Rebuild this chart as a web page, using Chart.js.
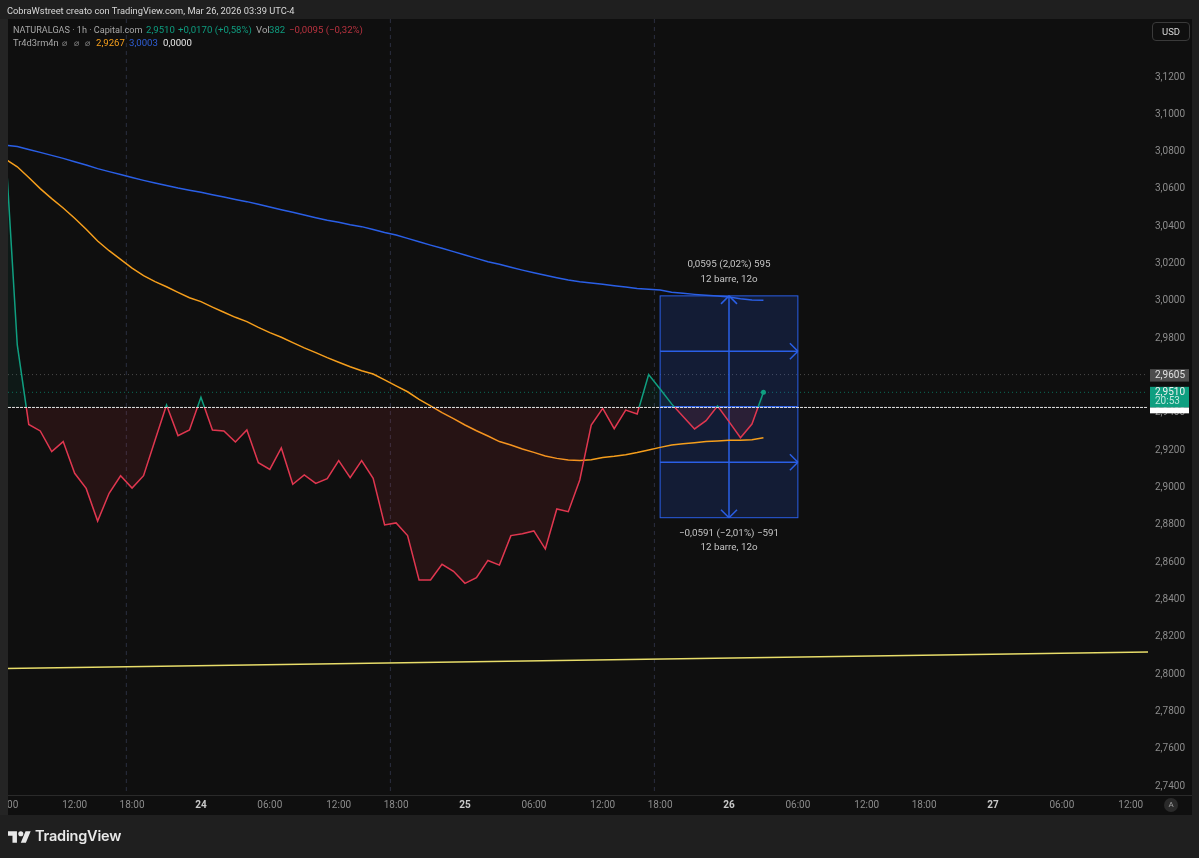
<!DOCTYPE html>
<html>
<head>
<meta charset="utf-8">
<title>NATURALGAS</title>
<script src="https://cdn.jsdelivr.net/npm/chart.js@4/dist/chart.umd.min.js"></script>
<style>
    html, body { margin: 0; padding: 0; background: #1f1f1f; }
    body { position: relative; width: 1199px; height: 858px; overflow: hidden; font-family: Roboto, sans-serif; }
    canvas { display: block; }
    .t { position: absolute; white-space: nowrap; font-size: 9.6px; line-height: 12px; }
    .usd { position: absolute; left: 1152px; top: 22px; width: 36px; height: 17px; border: 1px solid #3a3a3a; border-radius: 4px; color: #d8d8d8; font-size: 9.5px; line-height: 17px; text-align: center; }
    .auto { position: absolute; left: 1164px; top: 798px; width: 14px; height: 14px; border-radius: 50%; background: #2a2a2a; color: #a0a0a0; font-size: 8px; line-height: 14px; text-align: center; }
    .logo { position: absolute; left: 8px; top: 831px; }
    .brand { position: absolute; left: 35px; top: 826px; color: #e8e8e8; font-family: Inter, sans-serif; font-size: 14.5px; line-height: 20px; font-weight: 600; letter-spacing: -0.2px; }
</style>
</head>
<body>
<canvas id="chart" width="1199" height="858"></canvas>

<div class="t" style="left:7px;top:5px;color:#d8d8d8;font-size:9.3px">CobraWstreet creato con TradingView.com, Mar 26, 2026 03:39 UTC-4</div>
<div class="t" style="left:13px;top:24px;color:#a8a8a8;font-size:9.1px">NATURALGAS · 1h · Capital.com</div>
<div class="t" style="left:146px;top:24px;color:#0e9c7f">2,9510</div>
<div class="t" style="left:178px;top:24px;color:#0e9c7f">+0,0170 (+0,58%)</div>
<div class="t" style="left:256px;top:24px;color:#a8a8a8">Vol</div>
<div class="t" style="left:269px;top:24px;color:#0e9c7f">382</div>
<div class="t" style="left:289px;top:24px;color:#b8323f">−0,0095 (−0,32%)</div>
<div class="t" style="left:13px;top:37px;color:#a8a8a8;font-size:9.3px">Tr4d3rm4n</div>
<div class="t" style="left:62px;top:37px;color:#8a8a8a;font-size:9px;font-family:'DejaVu Sans'">⌀</div>
<div class="t" style="left:74px;top:37px;color:#8a8a8a;font-size:9px;font-family:'DejaVu Sans'">⌀</div>
<div class="t" style="left:85px;top:37px;color:#8a8a8a;font-size:9px;font-family:'DejaVu Sans'">⌀</div>
<div class="t" style="left:96px;top:37px;color:#f59e1c">2,9267</div>
<div class="t" style="left:129px;top:37px;color:#2f5fd6">3,0003</div>
<div class="t" style="left:163px;top:37px;color:#e8e8e8">0,0000</div>
<div class="usd">USD</div>
<div class="auto">A</div>
<svg class="logo" width="23" height="12" viewBox="0 4 36 18"><path fill="#e8e8e8" d="M14 22H7V11H0V4h14v18zM28 22h-8l7.5-18h8L28 22z"/><circle fill="#e8e8e8" cx="20" cy="8" r="4"/></svg>
<div class="brand">TradingView</div>

<script>
const closeValues = [
    3.0793, 2.9764, 2.9338, 2.9303, 2.9192, 2.9246, 2.9076, 2.8995, 2.8820, 2.8969,
    2.9063, 2.8997, 2.9063, 2.9253, 2.9442, 2.9278, 2.9308, 2.9483, 2.9308, 2.9303,
    2.9244, 2.9308, 2.9133, 2.9097, 2.9212, 2.9017, 2.9067, 2.9022, 2.9047, 2.9144,
    2.9053, 2.9144, 2.9049, 2.8799, 2.8810, 2.8742, 2.8504, 2.8504, 2.8588, 2.8551,
    2.8486, 2.8517, 2.8609, 2.8584, 2.8742, 2.8752, 2.8767, 2.8670, 2.8885, 2.8870,
    2.9040, 2.9335, 2.9424, 2.9315, 2.9415, 2.9394, 2.9605, 2.9528, 2.9448, 2.9380,
    2.9314, 2.9358, 2.9437, 2.9353, 2.9267, 2.9340, 2.9510
];
const orangeValues = [
    3.0759, 3.0719, 3.0661, 3.0602, 3.0548, 3.0498, 3.0443, 3.0384, 3.0321, 3.0269,
    3.0223, 3.0176, 3.0135, 3.0103, 3.0076, 3.0046, 3.0017, 2.9996, 2.9967, 2.9939,
    2.9912, 2.9889, 2.9858, 2.9830, 2.9805, 2.9776, 2.9748, 2.9723, 2.9696, 2.9671,
    2.9647, 2.9626, 2.9608, 2.9577, 2.9545, 2.9513, 2.9472, 2.9437, 2.9401, 2.9369,
    2.9335, 2.9304, 2.9276, 2.9246, 2.9228, 2.9206, 2.9188, 2.9169, 2.9156, 2.9147,
    2.9144, 2.9149, 2.9161, 2.9167, 2.9176, 2.9187, 2.9201, 2.9215, 2.9228, 2.9235,
    2.9240, 2.9246, 2.9249, 2.9253, 2.9253, 2.9256, 2.9267
];
const blueValues = [
    3.0834, 3.0827, 3.0812, 3.0796, 3.0780, 3.0764, 3.0746, 3.0728, 3.0709, 3.0693,
    3.0677, 3.0661, 3.0646, 3.0632, 3.0619, 3.0605, 3.0593, 3.0582, 3.0569, 3.0557,
    3.0544, 3.0532, 3.0518, 3.0503, 3.0489, 3.0475, 3.0460, 3.0446, 3.0432, 3.0421,
    3.0408, 3.0398, 3.0383, 3.0367, 3.0353, 3.0335, 3.0317, 3.0299, 3.0282, 3.0264,
    3.0246, 3.0228, 3.0210, 3.0196, 3.0180, 3.0165, 3.0151, 3.0137, 3.0124, 3.0112,
    3.0103, 3.0096, 3.0089, 3.0081, 3.0074, 3.0067, 3.0062, 3.0058, 3.0046, 3.0041,
    3.0035, 3.0030, 3.0026, 3.0021, 3.0012, 3.0005, 3.0003
];
const trendBars = [0, 99.5];
const trendValues = [2.8030, 2.8118];

const priceTicks = [3.12, 3.10, 3.08, 3.06, 3.04, 3.02, 3.00, 2.98, 2.96, 2.94, 2.92, 2.90, 2.88, 2.86, 2.84, 2.82, 2.80, 2.78, 2.76, 2.74];
const timeTickBars = [0, 6, 11, 17, 23, 29, 34, 40, 46, 52, 57, 63, 69, 75, 80, 86, 92, 98];
const timeTickLabels = ['06:00', '12:00', '18:00', '24', '06:00', '12:00', '18:00', '25', '06:00', '12:00', '18:00', '26', '06:00', '12:00', '18:00', '27', '06:00', '12:00'];
const sessionBreaks = [10.5, 33.5, 56.5];

const baseline = 2.9429;
const lastPrice = 2.9510;
const highPrice = 2.9605;
const measureBars = [57, 69];
const measureTop = 3.0027;
const measureBottom = 2.8838;
const upLabel = '0,0595 (2,02%) 595';
const downLabel = '−0,0591 (−2,01%) −591';
const barsLabel = '12 barre, 12o';

const UP = '#0f9f80';
const DOWN = '#e0364f';
const BLUE = '#2a5fe6';
const FONT = 'Roboto, sans-serif';

function fmt(v) {
    return v.toFixed(4).replace('.', ',');
}

function toPoints(values) {
    return values.map((v, i) => ({ x: i, y: v }));
}

function isDayTick(ctx) {
    const label = timeTickLabels[ctx.index];
    return !!label && label.length === 2;
}

function baselineStroke(ctx) {
    const chart = ctx.chart;
    if (!chart.chartArea) return DOWN;
    const { top, bottom } = chart.chartArea;
    const stop = (chart.scales.y.getPixelForValue(baseline) - top) / (bottom - top);
    const grad = chart.ctx.createLinearGradient(0, top, 0, bottom);
    grad.addColorStop(0, UP);
    grad.addColorStop(stop, UP);
    grad.addColorStop(stop, DOWN);
    grad.addColorStop(1, DOWN);
    return grad;
}

function hLine(c, x0, x1, y, color, width, dash) {
    c.save();
    c.strokeStyle = color;
    c.lineWidth = width;
    c.setLineDash(dash || []);
    c.beginPath();
    c.moveTo(x0, y);
    c.lineTo(x1, y);
    c.stroke();
    c.restore();
}

function arrowHead(c, x, y, dx, dy) {
    c.beginPath();
    c.moveTo(x + dx * 8 + dy * 8, y + dy * 8 + dx * 8);
    c.lineTo(x, y);
    c.moveTo(x + dx * 8 - dy * 8, y + dy * 8 - dx * 8);
    c.lineTo(x, y);
    c.stroke();
}

const panelPlugin = {
    id: 'panel',
    beforeDraw(chart) {
        const c = chart.ctx;
        c.save();
        c.fillStyle = '#1f1f1f';
        c.fillRect(0, 0, 1199, 858);
        c.fillStyle = '#0f0f0f';
        c.fillRect(8, 19, 1184, 796);
        c.strokeStyle = '#2a2a2a';
        c.lineWidth = 1;
        c.beginPath();
        c.moveTo(8, 795.5);
        c.lineTo(1192, 795.5);
        c.stroke();
        c.restore();
    },
    beforeDatasetsDraw(chart) {
        const c = chart.ctx;
        const { x, y } = chart.scales;
        const area = chart.chartArea;

        c.save();
        c.strokeStyle = '#2b2f40';
        c.lineWidth = 1;
        c.setLineDash([4, 4]);
        sessionBreaks.forEach(b => {
            const px = x.getPixelForValue(b);
            c.beginPath();
            c.moveTo(px, area.top);
            c.lineTo(px, area.bottom);
            c.stroke();
        });
        c.restore();

        hLine(c, 8, area.right, y.getPixelForValue(highPrice), '#4a4a4a', 1, [1, 3]);
        hLine(c, 8, area.right, y.getPixelForValue(lastPrice), '#0c6b58', 1, [1, 3]);

        // measure box
        const left = x.getPixelForValue(measureBars[0]);
        const right = x.getPixelForValue(measureBars[1]);
        const top = y.getPixelForValue(measureTop);
        const bottom = y.getPixelForValue(measureBottom);
        const mid = (left + right) / 2;
        const entry = y.getPixelForValue((measureTop + measureBottom) / 2);
        c.save();
        c.fillStyle = 'rgba(41, 98, 255, 0.16)';
        c.fillRect(left, top, right - left, bottom - top);
        c.strokeStyle = BLUE;
        c.lineWidth = 1;
        c.strokeRect(left, top, right - left, bottom - top);
        c.lineWidth = 1.5;
        [(top + entry) / 2, entry, (entry + bottom) / 2].forEach(py => {
            c.beginPath();
            c.moveTo(left, py);
            c.lineTo(right, py);
            c.stroke();
            if (py !== entry) arrowHead(c, right, py, -1, 0);
        });
        c.beginPath();
        c.moveTo(mid, top);
        c.lineTo(mid, bottom);
        c.stroke();
        arrowHead(c, mid, top, 0, 1);
        arrowHead(c, mid, bottom, 0, -1);

        c.fillStyle = '#c4c4c4';
        c.font = '9.8px ' + FONT;
        c.textAlign = 'center';
        c.textBaseline = 'middle';
        c.fillText(upLabel, mid, top - 31);
        c.fillText(barsLabel, mid, top - 16.5);
        c.fillText(downLabel, mid, bottom + 16);
        c.fillText(barsLabel, mid, bottom + 30);
        c.restore();
    },
    afterDatasetsDraw(chart) {
        const { y } = chart.scales;
        hLine(chart.ctx, 8, chart.chartArea.right, y.getPixelForValue(baseline), '#e4e4e4', 1, [3, 1]);
    },
    afterDraw(chart) {
        const c = chart.ctx;
        const { y } = chart.scales;
        const last = y.getPixelForValue(lastPrice);
        const high = y.getPixelForValue(highPrice);
        c.save();
        // left strip hides the part of the chart before the panel edge
        c.fillStyle = '#242424';
        c.fillRect(0, 19, 8, 796);

        c.fillStyle = '#fff';
        c.fillRect(1150, last + 15, 39, 6);
        c.fillStyle = UP;
        c.fillRect(1150, last - 5.5, 39, 20.5);
        c.fillStyle = '#4c4c4c';
        c.fillRect(1150, high - 5.5, 39, 12.5);

        c.font = '10px ' + FONT;
        c.textAlign = 'left';
        c.textBaseline = 'middle';
        c.fillStyle = '#e0e0e0';
        c.fillText(fmt(highPrice), 1155, high + 0.5);
        c.fillStyle = '#f0f0f0';
        c.fillText(fmt(lastPrice), 1155, last + 0.5);
        c.fillStyle = '#bfe8dd';
        c.fillText('20:53', 1155, last + 9.5);
        c.restore();
    }
};

new Chart(document.getElementById('chart'), {
    type: 'line',
    data: {
        datasets: [
            {
                label: 'NATURALGAS',
                data: toPoints(closeValues),
                borderColor: baselineStroke,
                borderWidth: 1.5,
                pointRadius: ctx => ctx.dataIndex === closeValues.length - 1 ? 2.5 : 0,
                pointBackgroundColor: UP,
                pointBorderWidth: 0,
                fill: {
                    target: { value: baseline },
                    above: 'rgba(8, 153, 129, 0.08)',
                    below: 'rgba(242, 54, 69, 0.10)'
                }
            },
            { label: 'Orange', data: toPoints(orangeValues), borderColor: '#f59e1c', borderWidth: 1.5, pointRadius: 0 },
            { label: 'Blue', data: toPoints(blueValues), borderColor: BLUE, borderWidth: 1.5, pointRadius: 0 },
            {
                label: 'Trend',
                data: trendBars.map((b, i) => ({ x: b, y: trendValues[i] })),
                borderColor: '#e8dd6a',
                borderWidth: 1.5,
                pointRadius: 0
            }
        ]
    },
    options: {
        responsive: false,
        animation: false,
        layout: { padding: { left: 5.8, top: 19, right: 7, bottom: 43 } },
        plugins: { legend: { display: false }, title: { display: false }, tooltip: { enabled: false } },
        scales: {
            x: {
                type: 'linear',
                min: 0,
                max: 99.5,
                grid: { display: false, drawTicks: false },
                border: { display: false },
                afterFit: s => { s.height = 20; s.paddingLeft = 0; s.paddingRight = 0; },
                afterBuildTicks: s => { s.ticks = timeTickBars.map(v => ({ value: v })); },
                ticks: {
                    autoSkip: false,
                    maxRotation: 0,
                    padding: 4,
                    callback: (v, i) => timeTickLabels[i],
                    color: ctx => isDayTick(ctx) ? '#c8c8c8' : '#8c8c8c',
                    font: ctx => ({ family: FONT, size: 10, weight: isDayTick(ctx) ? 'bold' : 'normal' })
                }
            },
            y: {
                position: 'right',
                min: 2.73518,
                max: 3.15109,
                grid: { display: false, drawTicks: false },
                border: { display: false },
                afterFit: s => { s.width = 44; s.paddingTop = 0; s.paddingBottom = 0; },
                afterBuildTicks: s => { s.ticks = priceTicks.map(v => ({ value: v })); },
                ticks: {
                    autoSkip: false,
                    padding: 7,
                    align: 'center',
                    crossAlign: 'near',
                    color: '#8c8c8c',
                    font: { family: FONT, size: 10 },
                    callback: v => fmt(v)
                }
            }
        }
    },
    plugins: [panelPlugin]
});
</script>
</body>
</html>
